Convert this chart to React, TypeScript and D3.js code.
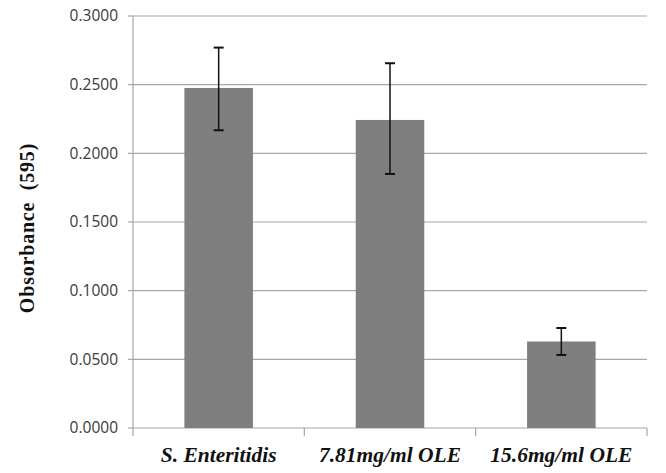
import React from "react";
import * as d3 from "d3";

const categories = ["S. Enteritidis", "7.81mg/ml OLE", "15.6mg/ml OLE"];
const values = [0.2476, 0.2243, 0.0630];
const errLow = [0.2168, 0.1850, 0.0532];
const errHigh = [0.2770, 0.2656, 0.0728];
const yTicks = [0, 0.05, 0.1, 0.15, 0.2, 0.25, 0.3];

export default function App() {
  const W = 666, H = 473;
  const left = 133, right = 647, top = 16, bottom = 428;
  const x = d3.scaleBand<string>().domain(categories).range([left, right]).paddingInner(0).paddingOuter(0);
  const y = d3.scaleLinear().domain([0, 0.3]).range([bottom, top]);
  const bw = x.bandwidth() * 0.4;
  const fmt = d3.format(".4f");
  const grid = "#a6a6a6";
  return (
    <svg width={W} height={H} style={{ position: "absolute", left: 0, top: 0, background: "#fff" }}>
      {yTicks.map((t) => (
        <g key={t}>
          {t > 0 && <line x1={left} x2={right} y1={y(t)} y2={y(t)} stroke={grid} strokeWidth={1.2} />}
          <line x1={left - 5} x2={left} y1={y(t)} y2={y(t)} stroke={grid} strokeWidth={1.2} />
          <text x={118} y={y(t)} dy="0.35em" textAnchor="end" fontFamily="'Open Sans', sans-serif" fontSize={15.5} fill="#3a3a3a">
            {fmt(t)}
          </text>
        </g>
      ))}
      <line x1={left} x2={left} y1={top} y2={bottom + 8} stroke={grid} strokeWidth={1.2} />
      <line x1={left} x2={right} y1={bottom} y2={bottom} stroke={grid} strokeWidth={1.2} />
      {categories.map((c, i) => (
        <line key={"xt" + i} x1={(x(c) as number) + x.bandwidth()} x2={(x(c) as number) + x.bandwidth()} y1={bottom} y2={bottom + 8} stroke={grid} strokeWidth={1.2} />
      ))}
      {categories.map((c, i) => {
        const cx = (x(c) as number) + x.bandwidth() / 2;
        return (
          <g key={c}>
            <rect x={cx - bw / 2} y={y(values[i])} width={bw} height={bottom - y(values[i])} fill="#7f7f7f" />
            <line x1={cx} x2={cx} y1={y(errHigh[i])} y2={y(errLow[i])} stroke="#111" strokeWidth={1.5} />
            <line x1={cx - 5} x2={cx + 5} y1={y(errHigh[i])} y2={y(errHigh[i])} stroke="#111" strokeWidth={2} />
            <line x1={cx - 5} x2={cx + 5} y1={y(errLow[i])} y2={y(errLow[i])} stroke="#111" strokeWidth={2} />
            <text x={cx} y={462} textAnchor="middle" fontFamily="'Liberation Serif', 'Times New Roman', serif" fontStyle="italic" fontWeight="bold" fontSize={21.5} fill="#111">
              {c}
            </text>
          </g>
        );
      })}
      <text transform={`translate(34,228) rotate(-90)`} textAnchor="middle" fontFamily="'Liberation Serif', 'Times New Roman', serif" fontWeight="bold" fontSize={20} letterSpacing={0.8} fill="#111" style={{ whiteSpace: "pre" }}>
        {"Obsorbance  (595)"}
      </text>
    </svg>
  );
}
